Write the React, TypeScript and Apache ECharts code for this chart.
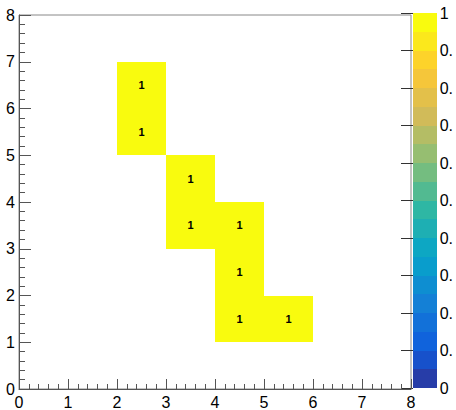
import React, { useEffect, useRef } from "react";
import * as echarts from "echarts";

// Histogram bin centres and contents
const cellX = [2.5, 2.5, 3.5, 3.5, 4.5, 4.5, 4.5, 5.5];
const cellY = [6.5, 5.5, 4.5, 3.5, 3.5, 2.5, 1.5, 1.5];
const cellValue = [1, 1, 1, 1, 1, 1, 1, 1];
const binWidth = 1;

const xTicks = [0, 1, 2, 3, 4, 5, 6, 7, 8];
const yTicks = [0, 1, 2, 3, 4, 5, 6, 7, 8];
const zMin = 0;
const zMax = 1;
const nContours = 20;

// ROOT kBird palette stops
const stops = [0.0, 0.125, 0.25, 0.375, 0.5, 0.625, 0.75, 0.875, 1.0];
const red = [0.2082, 0.0592, 0.078, 0.0232, 0.1802, 0.5301, 0.8186, 0.9956, 0.9764];
const green = [0.1664, 0.3599, 0.5041, 0.6419, 0.7178, 0.7492, 0.7328, 0.7862, 0.9832];
const blue = [0.5293, 0.8684, 0.8385, 0.7914, 0.6425, 0.4662, 0.3499, 0.1968, 0.0539];

function birdColor(t: number): string {
  let k = 0;
  while (k < stops.length - 2 && t > stops[k + 1]) k++;
  const f = (t - stops[k]) / (stops[k + 1] - stops[k]);
  const c = (a: number[]) => Math.round(255 * (a[k] + (a[k + 1] - a[k]) * f));
  return `rgb(${c(red)},${c(green)},${c(blue)})`;
}

const bandColors: string[] = [];
for (let i = 0; i < nContours; i++) {
  const idx = Math.floor((i + 0.99) * (255 / nContours));
  bandColors.push(birdColor(Math.min(idx, 254) / 254));
}

function colorFor(v: number): string {
  let band = Math.floor(((v - zMin) / (zMax - zMin)) * nContours);
  if (band >= nContours) band = nContours - 1;
  if (band < 0) band = 0;
  return bandColors[band];
}

const FONT = "Liberation Sans, Arial, Helvetica, sans-serif";
const AX = "#555";

export default function App() {
  const ref = useRef<HTMLDivElement>(null);
  useEffect(() => {
    if (!ref.current) return;
    const chart = echarts.init(ref.current, undefined, { renderer: "svg" });
    const cellData = cellX.map((x, i) => [x, cellY[i], cellValue[i]]);
    const bandData = bandColors.map((_, i) => [i]);
    chart.setOption({
      animation: false,
      backgroundColor: "#fff",
      grid: [
        { left: 19, right: 45, top: 15, bottom: 20, show: true, borderColor: "#888", borderWidth: 1, backgroundColor: "transparent" },
        { left: 413, right: 17, top: 13, bottom: 22, show: false },
      ],
      xAxis: [
        {
          type: "value", gridIndex: 0, min: xTicks[0], max: xTicks[xTicks.length - 1], interval: 1,
          axisLine: { show: true, onZero: false, lineStyle: { color: AX, width: 1 } },
          axisTick: { show: true, inside: true, length: 10, lineStyle: { color: AX } },
          minorTick: { show: true, splitNumber: 5, length: 5, lineStyle: { color: AX } },
          splitLine: { show: false },
          axisLabel: { fontSize: 16, color: "#000", fontFamily: FONT, margin: 5, showMinLabel: true, showMaxLabel: true },
        },
        { type: "value", gridIndex: 1, min: 0, max: 1, show: false },
      ],
      yAxis: [
        {
          type: "value", gridIndex: 0, min: yTicks[0], max: yTicks[yTicks.length - 1], interval: 1,
          axisLine: { show: true, onZero: false, lineStyle: { color: AX, width: 1 } },
          axisTick: { show: true, inside: true, length: 12, lineStyle: { color: AX } },
          minorTick: { show: true, splitNumber: 5, length: 6, lineStyle: { color: AX } },
          splitLine: { show: false },
          axisLabel: { fontSize: 16, color: "#000", fontFamily: FONT, margin: 4, showMinLabel: true, showMaxLabel: true },
        },
        {
          type: "value", gridIndex: 1, position: "right", min: zMin, max: zMax, interval: 0.1,
          axisLine: { show: false },
          axisTick: { show: true, inside: true, length: 12, lineStyle: { color: "#333" } },
          splitLine: { show: false },
          axisLabel: {
            fontSize: 16, color: "#000", fontFamily: FONT, margin: 3, showMinLabel: true, showMaxLabel: true,
            formatter: (v: number) => (v <= 1e-9 ? "0" : v >= 0.999 ? "1" : "0."),
          },
        },
      ],
      series: [
        {
          type: "custom", xAxisIndex: 1, yAxisIndex: 1, data: bandData, z: 1,
          renderItem: (params: any, api: any) => {
            const i = api.value(0);
            const p0 = api.coord([0, zMin + ((i + 1) / nContours) * (zMax - zMin)]);
            const p1 = api.coord([1, zMin + (i / nContours) * (zMax - zMin)]);
            const x0 = Math.round(p0[0]), y0 = Math.round(p0[1]);
            const x1 = Math.round(p1[0]), y1 = Math.round(p1[1]);
            return {
              type: "rect",
              shape: { x: x0, y: y0, width: x1 - x0, height: y1 - y0 },
              style: { fill: bandColors[i], stroke: "none", lineWidth: 0 },
            };
          },
        },
        {
          type: "custom", xAxisIndex: 0, yAxisIndex: 0, data: cellData, z: 1,
          renderItem: (params: any, api: any) => {
            const x = api.value(0), y = api.value(1), v = api.value(2);
            const p0 = api.coord([x - binWidth / 2, y + binWidth / 2]);
            const p1 = api.coord([x + binWidth / 2, y - binWidth / 2]);
            const x0 = Math.round(p0[0]), y0 = Math.round(p0[1]);
            const x1 = Math.round(p1[0]), y1 = Math.round(p1[1]);
            return {
              type: "group",
              children: [
                {
                  type: "rect",
                  shape: { x: x0, y: y0, width: x1 - x0, height: y1 - y0 },
                  style: { fill: colorFor(v), stroke: "none", lineWidth: 0 },
                },
                {
                  type: "text",
                  x: (p0[0] + p1[0]) / 2,
                  y: (p0[1] + p1[1]) / 2,
                  style: {
                    text: String(v), fill: "#000", stroke: "none", lineWidth: 0, fontSize: 11, fontWeight: "bold", fontFamily: FONT,
                    align: "center", verticalAlign: "middle",
                  },
                },
              ],
            };
          },
        },
      ],
    });
    return () => chart.dispose();
  }, []);
  return <div ref={ref} style={{ position: "fixed", left: 0, top: 0, width: 456, height: 410 }} />;
}
